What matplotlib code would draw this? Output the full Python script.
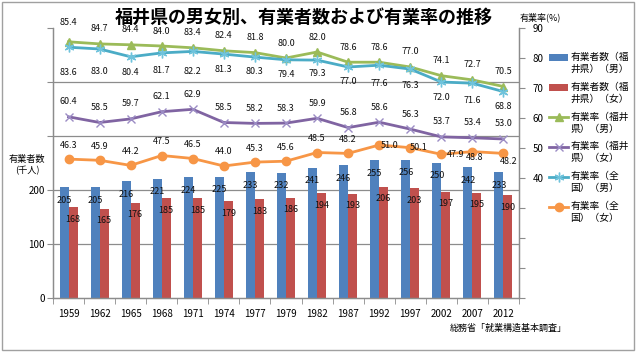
import matplotlib
matplotlib.use('Agg')
import matplotlib.pyplot as plt
from matplotlib.patches import Rectangle, Patch
from matplotlib.lines import Line2D
from matplotlib.legend_handler import HandlerPatch, HandlerLine2D
from matplotlib.transforms import Affine2D
import numpy as np

plt.rcParams['font.family'] = ['Noto Sans CJK JP', 'DejaVu Sans']

years = ['1959', '1962', '1965', '1968', '1971', '1974', '1977', '1979',
         '1982', '1987', '1992', '1997', '2002', '2007', '2012']
count_male = [205, 205, 216, 221, 224, 225, 233, 232, 241, 246, 255, 256, 250, 242, 233]
count_female = [168, 165, 176, 185, 185, 179, 183, 186, 194, 193, 206, 203, 197, 195, 190]
rate_fukui_male = [85.4, 84.7, 84.4, 84.0, 83.4, 82.4, 81.8, 80.0, 82.0, 78.6, 78.6, 77.0, 74.1, 72.7, 70.5]
rate_fukui_female = [60.4, 58.5, 59.7, 62.1, 62.9, 58.5, 58.2, 58.3, 59.9, 56.8, 58.6, 56.3, 53.7, 53.4, 53.0]
rate_nat_male = [83.6, 83.0, 80.4, 81.7, 82.2, 81.3, 80.3, 79.4, 79.3, 77.0, 77.6, 76.3, 72.0, 71.6, 68.8]
rate_nat_female = [46.3, 45.9, 44.2, 47.5, 46.5, 44.0, 45.3, 45.6, 48.5, 48.2, 51.0, 50.1, 47.9, 48.8, 48.2]

legend_labels = ['有業者数（福\n井県）（男）', '有業者数（福\n井県）（女）',
                 '有業率（福井\n県）（男）', '有業率（福井\n県）（女）',
                 '有業率（全\n国）（男）', '有業率（全\n国）（女）']

# label offsets in pixels (dx, dy), dy positive = up
off_fm = [(0, 19)] + [(0, 15)] * 14
off_ff = [(0, 15)] * 15
off_nm = [(0, -25), (0, -22), (0, -16), (0, -18), (0, -20), (0, -15), (0, -14), (0, -15),
          (0, -13), (0, -15), (0, -18), (0, -16), (0, -15), (0, -17), (0, -15)]
off_nf = [(0, 14)] * 10 + [(10, 0), (8, 0), (14, 0), (2, -6), (5, -8)]

W, H = 640, 359
fig = plt.figure(figsize=(W / 100, H / 100), dpi=100)


def fx(px):
    return px / W


def fy(py):
    return 1 - py / H


L, R, T, B = 53, 519, 28, 298
ax = fig.add_axes([fx(L), fy(B), (R - L) / W, (B - T) / H])
ax2 = ax.twinx()

gray = '#8c8c8c'
c_bm, c_bf = '#4F81BD', '#C0504D'
c_fm, c_ff, c_nm, c_nf = '#9BBB59', '#8064A2', '#4BACC6', '#F79646'

x = np.arange(len(years))
bw = 0.29
ax.bar(x - bw / 2, count_male, bw, color=c_bm, zorder=2)
ax.bar(x + bw / 2, count_female, bw, color=c_bf, zorder=2)
for xi, v in zip(x, count_male):
    ax.annotate(str(v), (xi - bw / 2, v), xytext=(0, -13), textcoords='offset pixels',
                ha='center', va='center', fontsize=6.5, color='#111111', zorder=3)
for xi, v in zip(x, count_female):
    ax.annotate(str(v), (xi + bw / 2, v), xytext=(0, -12), textcoords='offset pixels',
                ha='center', va='center', fontsize=6.5, color='#111111', zorder=3)

ax.set_xlim(-0.5, len(years) - 0.5)
ax.set_ylim(0, 500)
for gv in [100, 200, 300, 400]:
    ax.axhline(gv, color=gray, lw=0.9, zorder=1)
ax.set_yticks(range(0, 501, 100))
ax.set_yticklabels(['0', '100', '200', '', '', ''], fontsize=7)
ax.set_xticks(x)
ax.set_xticklabels(years, fontsize=7)
ax.set_xticks(np.arange(-0.5, len(years), 1), minor=True)
ax.tick_params(axis='x', which='major', length=0, pad=8)
ax.tick_params(axis='x', which='minor', length=4, color=gray)
ax.tick_params(axis='y', length=4, color=gray, pad=2)

mk = dict(lw=2, zorder=4)
l1, = ax2.plot(x, rate_fukui_male, color=c_fm, marker='^', ms=6, **mk)
l2, = ax2.plot(x, rate_fukui_female, color=c_ff, marker='x', ms=6, mec='#9b8cc4', mew=1, **mk)
l3, = ax2.plot(x, rate_nat_male, color=c_nm, marker=(6, 2, 0), ms=7, mec='#6fc3dc', mew=1, **mk)
l4, = ax2.plot(x, rate_nat_female, color=c_nf, marker='o', ms=6, **mk)

for vals, offs in [(rate_fukui_male, off_fm), (rate_fukui_female, off_ff),
                   (rate_nat_male, off_nm), (rate_nat_female, off_nf)]:
    for xi, v, (dx, dy) in zip(x, vals, offs):
        ax2.annotate(f'{v:.1f}', (xi, v), xytext=(dx, dy), textcoords='offset pixels',
                     ha='center', va='center', fontsize=6.5, color='#111111', zorder=5)

ax2.set_ylim(0, 90)
ax2.set_yticks(range(0, 91, 10))
ax2.set_yticklabels(['' if v < 40 else str(v) for v in range(0, 91, 10)], fontsize=7)
ax2.tick_params(axis='y', length=4, color=gray, pad=6)

for a in (ax, ax2):
    a.spines['top'].set_visible(False)
    for s in ('left', 'right', 'bottom'):
        a.spines[s].set_color(gray)
        a.spines[s].set_linewidth(0.9)

fig.text(fx(304), fy(17), '福井県の男女別、有業者数および有業率の推移', ha='center', va='center',
         fontsize=13, fontweight='bold')
fig.text(fx(540), fy(17), '有業率(%)', ha='center', va='center', fontsize=6.5)
fig.text(fx(27), fy(165), '有業者数\n(千人)', ha='center', va='center', fontsize=6.6,
         linespacing=1.3)
fig.text(fx(508), fy(328), '総務省「就業構造基本調査」', ha='center', va='center', fontsize=6.5)


class ShiftPatch(HandlerPatch):
    def create_artists(self, legend, orig_handle, xdescent, ydescent, width, height,
                       fontsize, trans):
        return super().create_artists(legend, orig_handle, xdescent, ydescent, width, height,
                                      fontsize, Affine2D().translate(0, 0.6 * fontsize) + trans)


class ShiftLine(HandlerLine2D):
    def create_artists(self, legend, orig_handle, xdescent, ydescent, width, height,
                       fontsize, trans):
        return super().create_artists(legend, orig_handle, xdescent, ydescent, width, height,
                                      fontsize, Affine2D().translate(0, 0.6 * fontsize) + trans)


h_bm = Patch(facecolor=c_bm)
h_bf = Patch(facecolor=c_bf)
leg = fig.legend([h_bm, h_bf, l1, l2, l3, l4], legend_labels, loc='upper left',
                 bbox_to_anchor=(fx(549), fy(52)), frameon=False, fontsize=7,
                 handlelength=2.0, labelspacing=0.8, handletextpad=0.2, borderaxespad=0,
                 borderpad=0, handler_map={Patch: ShiftPatch(), Line2D: ShiftLine()})
for t in leg.get_texts():
    t.set_linespacing(1.25)

fig.add_artist(Rectangle((fx(2), fy(350)), (634 - 2) / W, (350 - 2) / H,
                         transform=fig.transFigure, fill=False, edgecolor='#a0a0a0', lw=1))

fig.savefig('out.png', dpi=100)
